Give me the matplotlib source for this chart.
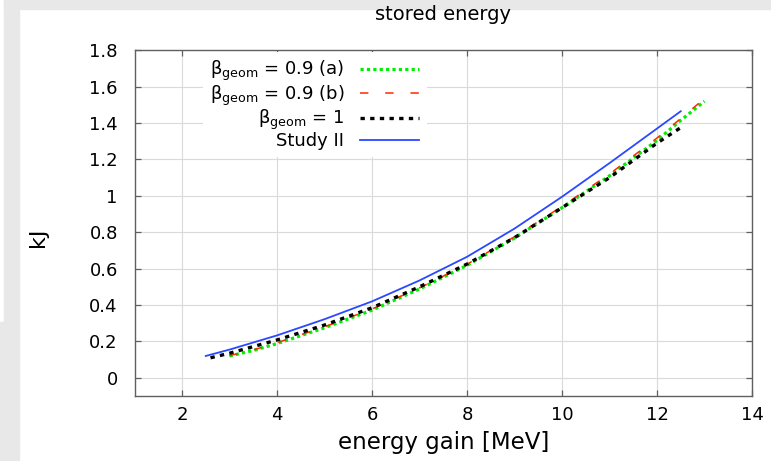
import numpy as np
import matplotlib
matplotlib.use('Agg')
import matplotlib.pyplot as plt
from matplotlib.patches import Rectangle

# values
x_study = [2.5, 3, 4, 5, 6, 7, 8, 9, 10, 11, 12, 12.5]
y_study = [0.12, 0.155, 0.233, 0.322, 0.42, 0.535, 0.665, 0.82, 0.995, 1.18, 1.37, 1.465]

x_beta1 = [2.6, 3, 4, 5, 6, 7, 8, 9, 10, 11, 12, 12.5]
y_beta1 = [0.11, 0.135, 0.208, 0.29, 0.385, 0.5, 0.625, 0.77, 0.935, 1.1, 1.29, 1.375]

x_beta09 = [3, 3.5, 4, 5, 6, 7, 8, 9, 10, 11, 12, 12.5, 13]
y_beta09_a = [0.12, 0.15, 0.188, 0.275, 0.372, 0.488, 0.618, 0.768, 0.935, 1.11, 1.305, 1.415, 1.52]
y_beta09_b = [0.122, 0.153, 0.193, 0.28, 0.378, 0.494, 0.624, 0.775, 0.942, 1.12, 1.318, 1.425, 1.535]

x_ticks = [2, 4, 6, 8, 10, 12, 14]
y_ticks = [0, 0.2, 0.4, 0.6, 0.8, 1.0, 1.2, 1.4, 1.6, 1.8]

labels = ['β$_{\\mathregular{geom}}$ = 0.9 (a)',
          'β$_{\\mathregular{geom}}$ = 0.9 (b)',
          'β$_{\\mathregular{geom}}$ = 1',
          'Study II']

plt.rcParams['font.family'] = ['DejaVu Sans']

W, H = 771, 461
fig = plt.figure(figsize=(W / 100, H / 100), dpi=100)
fig.patch.set_facecolor('white')

# grey screenshot border
grey = '#e8e8e8'
fig.patches.append(Rectangle((4 / W, 1 - 322 / H), 15 / W, 322 / H, transform=fig.transFigure,
                             color=grey, zorder=0))
fig.patches.append(Rectangle((0, 0), 19 / W, 1 - 322 / H, transform=fig.transFigure,
                             color=grey, zorder=0))
fig.patches.append(Rectangle((4 / W, 1 - 9 / H), 1 - 4 / W, 9 / H, transform=fig.transFigure,
                             color=grey, zorder=0))

left, right, top, bottom = 134.5, 752, 50.3, 396
ax = fig.add_axes([left / W, 1 - bottom / H, (right - left) / W, (bottom - top) / H])

ax.plot(x_beta09, y_beta09_a, color='#00ee00', lw=2.3, linestyle=(0, (1, 1)), label=labels[0])
ax.plot(x_beta09, y_beta09_b, color='#ff2a00', lw=1.1, linestyle=(0, (5.5, 11)), label=labels[1])
ax.plot(x_beta1, y_beta1, color='black', lw=2.4, linestyle=(0, (1.3, 1.6)), label=labels[2])
ax.plot(x_study, y_study, color='#2a48ff', lw=1.3, label=labels[3])

ax.set_xlim(1, 14)
ax.set_ylim(-0.1, 1.8)
ax.set_xticks(x_ticks)
ax.set_yticks(y_ticks)
ax.yaxis.set_major_formatter(plt.FuncFormatter(lambda v, _: f'{v:g}'))
ax.grid(True, color='#dadada', lw=0.8)
ax.set_axisbelow(True)

for s in ax.spines.values():
    s.set_color('#606060')
    s.set_linewidth(1.0)
ax.tick_params(axis='both', direction='in', top=True, right=True, length=4.5,
               width=0.9, color='#606060', labelsize=13)
ax.tick_params(axis='x', pad=7)
ax.tick_params(axis='y', pad=12)

ax.set_xlabel('energy gain [MeV]', fontsize=16.5, va='center')
ax.xaxis.set_label_coords(0.5, (bottom - 442) / (bottom - top))
ax.set_ylabel('kJ', fontsize=16, va='center')
ax.yaxis.set_label_coords((38 - left) / (right - left), (bottom - 237) / (bottom - top))

fig.text(443 / W, 1 - 15 / H, 'stored energy', fontsize=14, ha='center', va='center')

# gnuplot-style key: text right-aligned, line sample on the right
leg = ax.legend(loc='upper right', bbox_to_anchor=(0.473, 0.995), markerfirst=False,
                fontsize=13, handlelength=3.3, handletextpad=0.85, labelspacing=0.0,
                borderpad=0.4, borderaxespad=0, frameon=True, fancybox=False,
                framealpha=1, facecolor='white', edgecolor='none')

fig.savefig('out.png', dpi=100)
